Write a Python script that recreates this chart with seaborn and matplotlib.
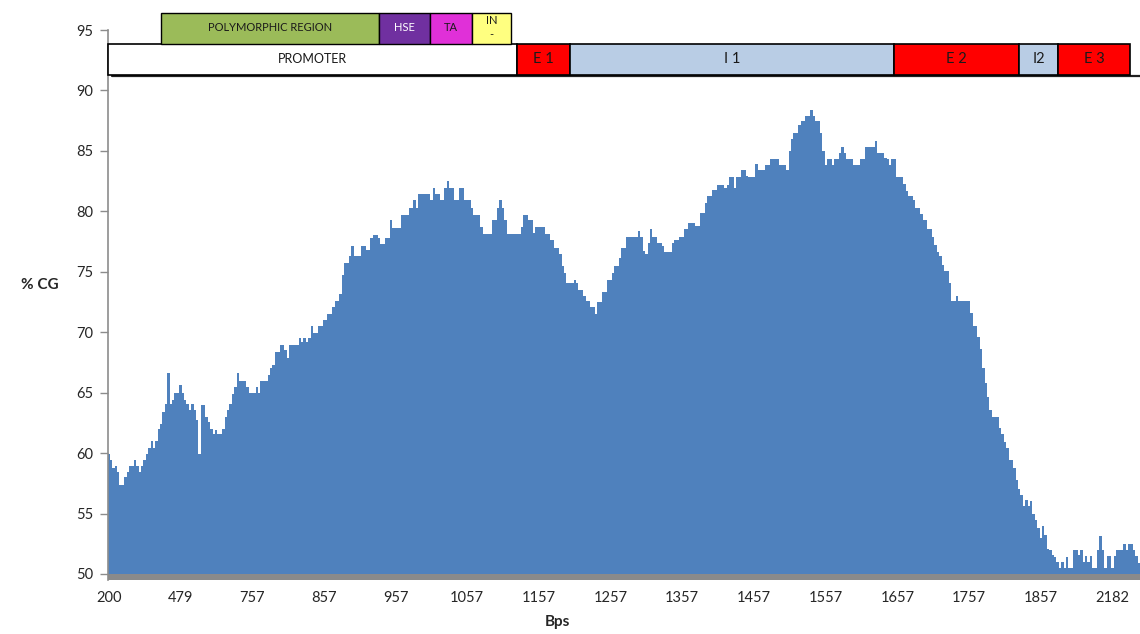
import numpy as np
import pandas as pd
import matplotlib.pyplot as plt
from matplotlib.patches import Rectangle
import seaborn as sns

# ============================================
# 数据 (从图中读取, 每根柱子一个值)
# ============================================
pct_cg = [
    59.9, 59.4, 58.8, 58.9, 58.4, 57.4, 57.4, 58.0, 58.4, 58.9,
    58.9, 59.4, 58.9, 58.4, 58.9, 59.4, 59.9, 60.4, 61.0, 60.4,
    61.0, 62.0, 62.4, 63.4, 64.1, 66.6, 64.1, 64.4, 65.0, 65.0,
    65.6, 65.0, 64.4, 64.1, 63.6, 64.1, 63.6, 62.7, 59.9, 64.0,
    64.0, 63.0, 62.6, 62.0, 61.6, 61.9, 61.6, 61.6, 62.0, 63.0,
    63.6, 64.1, 64.9, 65.5, 66.6, 66.0, 66.0, 66.0, 65.5, 65.0,
    65.0, 65.0, 65.5, 65.0, 66.0, 66.0, 66.0, 66.5, 67.0, 67.3,
    68.4, 68.4, 68.9, 68.9, 68.5, 67.9, 68.9, 68.9, 68.9, 68.9,
    69.5, 69.2, 69.5, 69.2, 69.5, 70.5, 69.9, 69.9, 70.5, 70.5,
    71.0, 71.0, 71.5, 71.5, 72.1, 72.6, 72.6, 73.2, 74.7, 75.7,
    75.7, 76.3, 77.1, 76.3, 76.3, 76.3, 77.1, 77.1, 76.8, 76.8,
    77.8, 78.0, 78.0, 77.8, 77.3, 77.3, 77.8, 77.8, 79.3, 78.6,
    78.6, 78.6, 78.6, 79.7, 79.7, 79.7, 80.3, 80.3, 80.9, 80.3,
    81.4, 81.4, 81.4, 81.4, 81.4, 80.9, 81.9, 81.4, 81.4, 80.9,
    80.9, 81.9, 82.5, 81.9, 81.9, 80.9, 80.9, 81.9, 81.9, 80.9,
    80.9, 80.9, 80.3, 79.7, 79.7, 79.7, 78.7, 78.1, 78.1, 78.1,
    78.1, 79.3, 79.3, 80.3, 80.9, 80.3, 79.3, 78.1, 78.1, 78.1,
    78.1, 78.1, 78.1, 78.7, 79.7, 79.7, 79.3, 79.3, 78.2, 78.7,
    78.7, 78.7, 78.7, 78.1, 78.1, 77.6, 77.6, 77.0, 77.0, 76.5,
    75.5, 74.9, 74.1, 74.1, 74.1, 74.3, 74.1, 73.5, 73.5, 73.0,
    72.6, 72.6, 72.1, 72.1, 71.5, 72.5, 72.5, 73.3, 73.3, 74.3,
    74.3, 74.9, 75.5, 75.5, 76.1, 77.0, 77.0, 77.9, 77.9, 77.9,
    77.9, 77.9, 78.4, 77.9, 76.7, 76.5, 77.4, 78.5, 77.9, 77.9,
    77.4, 77.4, 77.1, 76.6, 76.6, 76.6, 77.4, 77.6, 77.6, 77.9,
    77.9, 78.5, 78.5, 79.0, 79.0, 79.0, 78.8, 78.8, 79.9, 79.9,
    80.7, 81.3, 81.3, 81.8, 81.8, 82.2, 82.2, 82.2, 81.9, 82.2,
    82.8, 82.8, 81.9, 82.8, 82.8, 83.4, 83.4, 82.9, 82.8, 82.8,
    82.8, 83.9, 83.4, 83.4, 83.4, 83.8, 83.8, 84.3, 84.3, 84.3,
    84.3, 83.8, 83.8, 83.8, 83.4, 85.0, 86.0, 86.5, 86.5, 87.1,
    87.5, 87.5, 87.9, 87.9, 88.4, 87.9, 87.5, 87.5, 86.5, 85.0,
    83.8, 84.3, 84.3, 83.8, 84.3, 84.3, 84.8, 85.3, 84.8, 84.3,
    84.3, 84.3, 83.8, 83.8, 83.8, 84.3, 84.3, 85.3, 85.3, 85.3,
    85.3, 85.8, 84.8, 84.8, 84.8, 84.4, 84.3, 83.8, 84.3, 84.3,
    82.8, 82.8, 82.8, 82.3, 81.7, 81.3, 81.3, 80.9, 80.3, 80.3,
    79.8, 79.3, 79.3, 78.5, 78.5, 77.9, 77.2, 76.6, 76.3, 75.6,
    75.1, 75.1, 74.1, 72.6, 72.6, 73.0, 72.6, 72.6, 72.6, 72.6,
    72.6, 71.6, 70.5, 70.5, 69.6, 68.6, 67.0, 65.8, 64.6, 63.6,
    63.0, 63.0, 63.0, 62.1, 61.6, 60.9, 60.4, 59.4, 59.4, 58.8,
    57.8, 57.0, 56.5, 55.6, 56.1, 55.6, 56.0, 55.0, 54.5, 53.8,
    53.0, 54.0, 53.2, 52.1, 52.0, 51.6, 51.4, 51.0, 50.5, 51.0,
    50.5, 51.4, 50.5, 50.5, 52.0, 52.0, 51.6, 52.0, 51.0, 51.5,
    51.0, 51.5, 50.5, 50.5, 52.0, 53.1, 52.0, 50.5, 51.5, 51.5,
    50.5, 51.5, 52.0, 52.0, 52.0, 52.5, 52.0, 52.5, 52.5, 52.0,
    51.5, 50.9,
]

# x轴标签 (每30根柱子一个)
tick_labels = ['200', '479', '757', '857', '957', '1057', '1157', '1257',
               '1357', '1457', '1557', '1657', '1757', '1857', '2182']
tick_step = 30

# 基因结构 (柱子序号坐标)
gene_names = ['PROMOTER', 'E 1', 'I 1', 'E 2', 'I2', 'E 3']
gene_start = [-0.5, 170.8, 193.0, 328.4, 381.0, 397.3]
gene_end = [170.8, 193.0, 328.4, 381.0, 397.3, 427.4]
gene_colors = ['#FFFFFF', '#FF0000', '#B9CDE5', '#FF0000', '#B9CDE5', '#FF0000']

promo_names = ['POLYMORPHIC REGION', 'HSE', 'TA', 'IN\n-']
promo_start = [21.9, 113.3, 134.6, 152.0]
promo_end = [113.3, 134.3, 152.0, 168.3]
promo_colors = ['#9BBB59', '#7030A0', '#E030D8', '#FFFF80']
promo_text_colors = ['#1A1A1A', '#FFFFFF', '#1A1A1A', '#1A1A1A']

bar_color = '#4F81BD'

# ============================================
# 作图
# ============================================
sns.set_style('white')
plt.rcParams['font.family'] = ['Lato', 'DejaVu Sans']

df = pd.DataFrame({'pos': np.arange(len(pct_cg)), 'cg': pct_cg})

fig = plt.figure(figsize=(11.4, 6.34), dpi=100)
ax = fig.add_axes([107.5 / 1140, 1 - 580 / 634, 1 - 107.5 / 1140, 550 / 634])

sns.barplot(data=df, x='pos', y='cg', color=bar_color, saturation=1, width=1,
            linewidth=0, antialiased=False, ax=ax)

ax.set_xlim(-0.5, 431.5)
ax.set_ylim(49.5, 95)
ax.axhspan(49.5, 50, color='#8A8A8A', zorder=5, lw=0)

ax.set_yticks(np.arange(50, 96, 5))
ax.set_xticks(np.arange(0, len(tick_labels) * tick_step, tick_step))
ax.set_xticklabels(tick_labels)
ax.tick_params(axis='y', which='major', left=True, length=6, width=1,
               color='#8C8C8C', labelsize=10.5, pad=4)
ax.tick_params(axis='x', length=0, labelsize=10.5, pad=8)
ax.set_xlabel('')
ax.set_ylabel('')

for side in ['top', 'right', 'bottom']:
    ax.spines[side].set_visible(False)
ax.spines['left'].set_color('#8C8C8C')
ax.spines['left'].set_linewidth(1.2)

# 基因结构色块
y_lo, y_mid, y_hi = 91.3, 93.85, 96.4
for name, s, e, c in zip(gene_names, gene_start, gene_end, gene_colors):
    ax.add_patch(Rectangle((s, y_lo), e - s, y_mid - y_lo, facecolor=c,
                           edgecolor='black', lw=1.2, clip_on=False, zorder=6))
    fs = 9 if name == 'PROMOTER' else 10.5
    ax.text((s + e) / 2, (y_lo + y_mid) / 2, name, ha='center', va='center',
            fontsize=fs, color='#1A1A1A', clip_on=False, zorder=7)
# 下方阴影线
ax.plot([gene_start[0] + 2, gene_end[-1] + 4], [y_lo - 0.12, y_lo - 0.12],
        color='#202020', lw=1.6, clip_on=False, zorder=5.5)

for name, s, e, c, tc in zip(promo_names, promo_start, promo_end, promo_colors, promo_text_colors):
    ax.add_patch(Rectangle((s, y_mid), e - s, y_hi - y_mid, facecolor=c,
                           edgecolor='black', lw=1.0, clip_on=False, zorder=6))
    ax.text((s + e) / 2, (y_mid + y_hi) / 2 + 0.1, name, ha='center', va='center',
            fontsize=8, color=tc, clip_on=False, zorder=7, linespacing=1.3)

fig.text(40 / 1140, 1 - 285 / 634, '% CG', ha='center', va='center',
         fontsize=11, fontweight='bold')
fig.text(557 / 1140, 1 - 622 / 634, 'Bps', ha='center', va='center',
         fontsize=11, fontweight='bold')

plt.savefig('out.png', dpi=100)
